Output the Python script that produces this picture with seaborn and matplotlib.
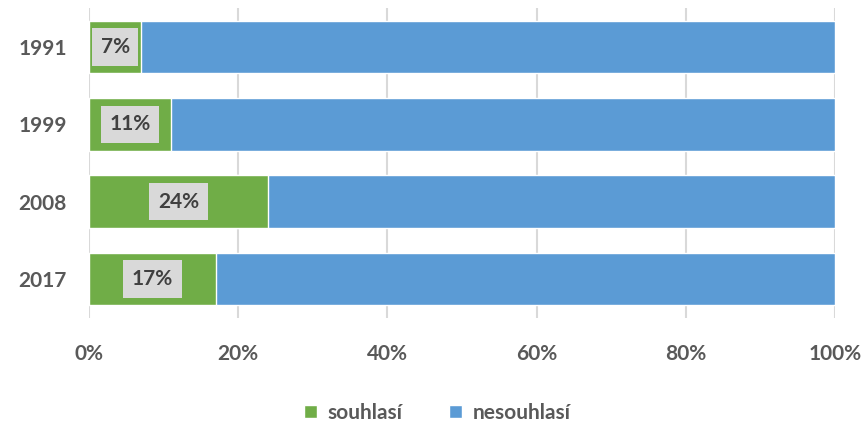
import pandas as pd
import seaborn as sns
import matplotlib.pyplot as plt
from matplotlib.patches import Patch

# Data
years = ['1991', '1999', '2008', '2017']
agree = [7, 11, 24, 17]
disagree = [93, 89, 76, 83]
series_names = ['souhlasí', 'nesouhlasí']
x_ticks = [0, 20, 40, 60, 80, 100]
x_tick_labels = ['0%', '20%', '40%', '60%', '80%', '100%']

green = '#70AD47'
blue = '#5B9BD5'
text_gray = '#595959'

sns.set_style('white')
plt.rcParams['font.family'] = ['Lato', 'DejaVu Sans']

data = pd.DataFrame({'year': years, 'agree': agree, 'disagree': disagree})
data['total'] = data['agree'] + data['disagree']

fig = plt.figure(figsize=(8.66, 4.30), dpi=100)
ax = fig.add_axes([0.1028, 0.261, 0.8614, 0.720])

# grid behind bars
for t in x_ticks:
    ax.axvline(t, color='#D9D9D9', linewidth=1.5, zorder=0)

sns.barplot(data=data, y='year', x='total', color=blue, orient='h',
            width=0.68, saturation=1, ax=ax, zorder=2)
sns.barplot(data=data, y='year', x='agree', color=green, orient='h',
            width=0.68, saturation=1, ax=ax, zorder=3)

# data labels in gray boxes
for i, v in enumerate(data['agree']):
    ax.text(v / 2, i, f'{v}%', ha='center', va='center', fontsize=15,
            fontweight='bold', color='#404040', zorder=5,
            bbox=dict(boxstyle='square,pad=0.42', facecolor='#D9D9D9',
                      edgecolor='none'))

ax.set_xlim(0, 100)
ax.set_ylim(3.5, -0.5)
ax.set_xticks(x_ticks)
ax.set_xticklabels(x_tick_labels)
ax.set_xlabel('')
ax.set_ylabel('')
ax.tick_params(axis='x', length=0, pad=19, labelsize=15, labelcolor=text_gray)
ax.tick_params(axis='y', length=0, pad=16, labelsize=15, labelcolor=text_gray)
for lab in ax.get_xticklabels() + ax.get_yticklabels():
    lab.set_fontweight('bold')
sns.despine(ax=ax, left=True, bottom=True)

handles = [Patch(facecolor=green, label=series_names[0]),
           Patch(facecolor=blue, label=series_names[1])]
leg = fig.legend(handles=handles, loc='center', bbox_to_anchor=(0.505, 0.040),
                 ncol=2, frameon=False, fontsize=15, handlelength=0.65,
                 handleheight=0.65, handletextpad=0.5, columnspacing=2.2)
for t in leg.get_texts():
    t.set_color(text_gray)
    t.set_fontweight('bold')

fig.savefig('out.png', dpi=100)
